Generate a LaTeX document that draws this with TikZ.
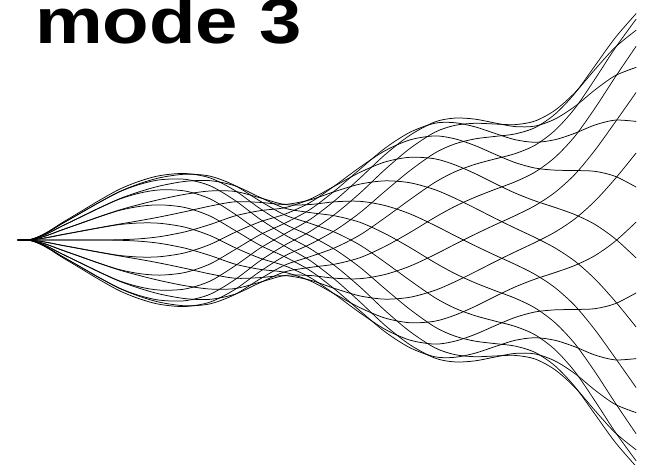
\documentclass[tikz,border=0pt]{standalone}
\usepackage{fontspec}
\setmainfont{Liberation Sans}
\tikzset{
  ray/.style={line width=0.75pt, black, line join=round, line cap=round},
  titletext/.style={anchor=base west, inner sep=0pt, font=\fontsize{64}{64}\selectfont\bfseries}
}
\begin{document}
\begin{tikzpicture}[x=1pt,y=-1pt]
\useasboundingbox (0,0) rectangle (656,464);
\node[titletext] (title) at (35,43) {\scalebox{1.19}[1]{mode 3}};
\foreach \k in {0,...,19}{
  \gdef\pts{}
  \foreach \xx/\RR/\pp in {18/0/0, 30/0.4/0, 40/4/0, 50/9.5/0, 60/16/0, 70/22/0, 80/28/0, 100/40/0, 120/51/0.3, 140/59/1.2, 160/64.5/3, 185/67/7, 210/64/14, 235/55/26, 260/43/43, 285/36/64, 310/41/84, 335/55/100, 360/73/112, 385/92/122, 410/108/130, 435/119/137, 455/122/142, 475/121/146.7, 495/118/151.4, 515/116/156.1, 535/119/160.8, 555/130/165.5, 575/149/170.2, 595/175/174.9, 615/202/179.6, 636/227/184.5}{
    \pgfmathsetmacro\yy{240-\RR*cos(\pp-18*\k)}
    \xdef\pts{\pts (\xx,\yy)}
  }
  \edef\tmp{\noexpand\draw[ray] plot[smooth] coordinates {\pts};}
  \tmp
}
\end{tikzpicture}
\end{document}
